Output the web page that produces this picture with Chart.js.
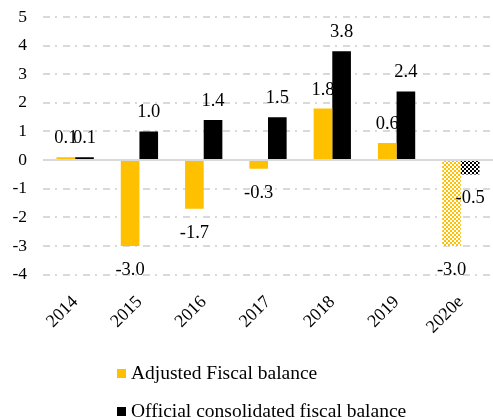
<!DOCTYPE html>
<html>
<head>
<meta charset="utf-8">
<script src="https://cdn.jsdelivr.net/npm/chart.js@4.4.1/dist/chart.umd.min.js"></script>
<style>
    html, body { margin: 0; padding: 0; background: #ffffff; }
    #wrap { width: 493px; height: 420px; }
</style>
</head>
<body>
<div id="wrap"><canvas id="fiscalChart" width="493" height="420"></canvas></div>
<script>
// ---- data ----
const years = ["2014", "2015", "2016", "2017", "2018", "2019", "2020e"];
const adjustedBalance = [0.1, -3.0, -1.7, -0.3, 1.8, 0.6, -3.0];
const officialBalance = [0.1, 1.0, 1.4, 1.5, 3.8, 2.4, -0.5];
const seriesNames = ["Adjusted Fiscal balance", "Official consolidated fiscal balance"];
const yTickValues = [5, 4, 3, 2, 1, 0, -1, -2, -3, -4];
const estimateIndex = years.indexOf("2020e");

const SERIF = '"Liberation Serif", "DejaVu Serif", serif';
const YELLOW = '#ffc000';
const BLACK = '#000000';
const GRID = '#d9d9d9';

// checkered fill used for the estimated year
function checker(color) {
    const c = document.createElement('canvas');
    c.width = 4; c.height = 4;
    const g = c.getContext('2d');
    g.fillStyle = '#ffffff';
    g.fillRect(0, 0, 4, 4);
    g.fillStyle = color;
    g.fillRect(0, 0, 2, 2);
    g.fillRect(2, 2, 2, 2);
    return g.createPattern(c, 'repeat');
}

const yellowHatch = checker(YELLOW);
const blackHatch = checker(BLACK);

// solid zero line (grid lines are dash-dot)
const zeroLine = {
    id: 'zeroLine',
    beforeDatasetsDraw(chart) {
        const { ctx, chartArea, scales } = chart;
        const y = scales.y.getPixelForValue(0);
        ctx.save();
        ctx.strokeStyle = GRID;
        ctx.lineWidth = 2;
        ctx.beginPath();
        ctx.moveTo(chartArea.left, y);
        ctx.lineTo(chartArea.right, y);
        ctx.stroke();
        ctx.restore();
    }
};

// value labels at the outer end of every bar
const valueLabels = {
    id: 'valueLabels',
    afterDatasetsDraw(chart) {
        const ctx = chart.ctx;
        ctx.save();
        ctx.font = '18.5px ' + SERIF;
        ctx.fillStyle = '#000';
        ctx.textAlign = 'center';
        ctx.textBaseline = 'alphabetic';
        chart.data.datasets.forEach((ds, di) => {
            chart.getDatasetMeta(di).data.forEach((bar, i) => {
                const v = ds.data[i];
                const y = v >= 0 ? bar.y - 14 : bar.y + 29;
                ctx.fillText(v.toFixed(1), bar.x, y);
            });
        });
        ctx.restore();
    }
};

// two-row legend under the axis, left aligned
const stackedLegend = {
    id: 'stackedLegend',
    afterDraw(chart) {
        const ctx = chart.ctx;
        ctx.save();
        ctx.font = '19.5px ' + SERIF;
        ctx.textBaseline = 'alphabetic';
        ctx.textAlign = 'left';
        chart.data.datasets.forEach((ds, i) => {
            const top = 369 + i * 38;
            ctx.fillStyle = ds.legendColor;
            ctx.fillRect(117, top, 9, 9);
            ctx.fillStyle = '#000';
            ctx.fillText(ds.label, 131, top + 10);
        });
        ctx.restore();
    }
};

new Chart(document.getElementById('fiscalChart'), {
    type: 'bar',
    data: {
        labels: years,
        datasets: [
            {
                label: seriesNames[0],
                data: adjustedBalance,
                legendColor: YELLOW,
                backgroundColor: ctx => ctx.dataIndex === estimateIndex ? yellowHatch : YELLOW,
                borderWidth: 0,
                categoryPercentage: 0.58,
                barPercentage: 1.0
            },
            {
                label: seriesNames[1],
                data: officialBalance,
                legendColor: BLACK,
                backgroundColor: ctx => ctx.dataIndex === estimateIndex ? blackHatch : BLACK,
                borderWidth: 0,
                categoryPercentage: 0.58,
                barPercentage: 1.0
            }
        ]
    },
    options: {
        responsive: false,
        animation: false,
        layout: { padding: { left: 0, top: 0, right: 0, bottom: 65 } },
        plugins: {
            legend: { display: false },
            tooltip: { enabled: false }
        },
        scales: {
            x: {
                grid: { display: false, drawTicks: false },
                border: { display: false },
                afterFit: axis => {
                    // rotated labels may overhang; keep the plot wide like the original
                    axis.paddingLeft = 0;
                    axis.paddingRight = 0;
                },
                ticks: {
                    color: '#000',
                    font: { family: SERIF, size: 18 },
                    maxRotation: 45,
                    minRotation: 45,
                    padding: 17
                }
            },
            y: {
                min: Math.min(...yTickValues),
                max: Math.max(...yTickValues),
                afterBuildTicks: axis => {
                    axis.ticks = yTickValues.map(v => ({ value: v }));
                },
                afterFit: axis => {
                    axis.width = 43;
                    axis.paddingTop = 17;
                    axis.paddingBottom = 0;
                },
                grid: {
                    drawTicks: false,
                    color: c => c.tick && c.tick.value === 0 ? 'rgba(0,0,0,0)' : GRID,
                    lineWidth: 2
                },
                border: { display: false, dash: [7, 5, 2, 6] },
                ticks: {
                    color: '#000',
                    font: { family: SERIF, size: 17.5 },
                    padding: 16
                }
            }
        }
    },
    plugins: [zeroLine, valueLabels, stackedLegend]
});
</script>
</body>
</html>
